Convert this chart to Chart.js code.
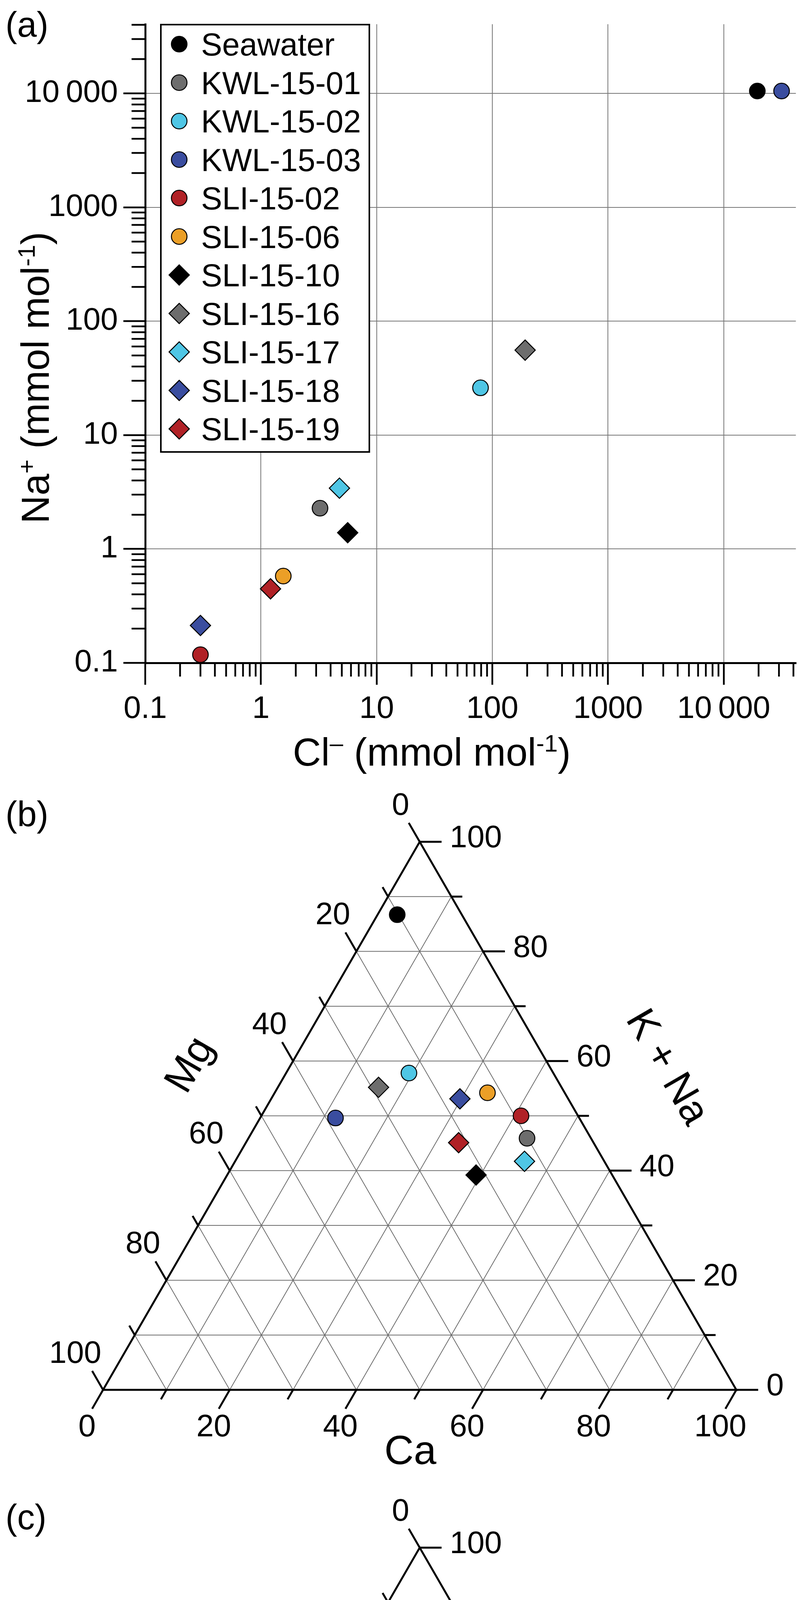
<!DOCTYPE html>
<html>
<head>
<meta charset="utf-8">
<title>Na vs Cl and ternary plots</title>
<script src="https://cdn.jsdelivr.net/npm/chart.js@4.4.1/dist/chart.umd.min.js"></script>
<style>
  html, body { margin: 0; padding: 0; background: #fff; }
  body { position: relative; width: 2067px; height: 5598px; overflow: hidden; }
  canvas { position: absolute; left: 0; }
</style>
</head>
<body>
<canvas id="naCl" width="2067" height="2000" style="top:0;width:2067px;height:2000px"></canvas>
<canvas id="cations" width="2067" height="1791" style="top:2000px;width:2067px;height:1791px"></canvas>
<canvas id="anions" width="2067" height="1791" style="top:3807px;width:2067px;height:1791px"></canvas>
<script>
const FONT = '"Liberation Sans", Arial, sans-serif';

// samples in legend order
const samples = ['Seawater', 'KWL-15-01', 'KWL-15-02', 'KWL-15-03', 'SLI-15-02', 'SLI-15-06',
                 'SLI-15-10', 'SLI-15-16', 'SLI-15-17', 'SLI-15-18', 'SLI-15-19'];
const sampleColors = ['#000000', '#6d6d6d', '#4fc6e5', '#3a4d9f', '#b02126', '#eb9f27',
                      '#000000', '#6d6d6d', '#4fc6e5', '#3a4d9f', '#b02126'];
const sampleMarkers = ['circle', 'circle', 'circle', 'circle', 'circle', 'circle',
                       'rectRot', 'rectRot', 'rectRot', 'rectRot', 'rectRot'];

// (a) Na+ against Cl-, mmol/mol
const clMmol = [19500, 3.24, 79, 31600, 0.30, 1.56, 5.62, 192, 4.77, 0.30, 1.21];
const naMmol = [10500, 2.28, 26, 10500, 0.118, 0.578, 1.39, 55.7, 3.42, 0.213, 0.447];
const logDecades = [0.1, 1, 10, 100, 1000, 10000];
const logDecadeLabels = ['0.1', '1', '10', '100', '1000', '10\u2009000'];
const minorSteps = [2, 3, 4, 5, 6, 7, 8, 9];

// (b) cations, % (top: K+Na, bottom-right: Ca, bottom-left: Mg)
const knaPct = [86.7, 45.9, 57.8, 49.6, 50.0, 54.2, 39.2, 55.2, 41.7, 53.1, 45.1];
const caPct  = [3.1, 44.0, 19.4, 11.9, 41.0, 33.6, 39.3, 15.9, 45.7, 29.8, 33.6];
const mgPct  = [10.2, 10.1, 22.8, 38.5, 9.0, 12.2, 21.5, 28.9, 12.6, 17.1, 21.3];

// (c) %, top: Ca, bottom-right: SO4, bottom-left: Cl
const caPctC = [2.4, 37.4, 10.3, 7.3, 18.9, 14.5, 25.4, 7.6, 23.6, 17.5, 17.8];
const so4Pct = [11.9, 25.2, 13.5, 1.7, 16.9, 33.8, 14.8, 9.3, 30.7, 36.2, 15.7];
const clPct  = [85.7, 37.4, 76.2, 91.0, 64.2, 51.7, 59.8, 83.1, 45.7, 46.3, 66.5];

const ternaryTicks = [0, 10, 20, 30, 40, 50, 60, 70, 80, 90, 100];
const ternaryLabelled = [0, 20, 40, 60, 80, 100];

function markerRadius(i) { return sampleMarkers[i] === 'circle' ? 20 : 26; }

function pointStyleFor(i) {
  return {
    pointStyle: sampleMarkers[i],
    pointRadius: markerRadius(i),
    pointHoverRadius: markerRadius(i),
    pointBackgroundColor: sampleColors[i],
    pointBorderColor: '#000',
    pointBorderWidth: 2.5,
    backgroundColor: sampleColors[i],
    borderColor: '#000',
    clip: false
  };
}

function drawMarker(ctx, i, x, y) {
  const r = markerRadius(i);
  ctx.beginPath();
  if (sampleMarkers[i] === 'circle') {
    ctx.arc(x, y, r, 0, Math.PI * 2);
  } else {
    ctx.moveTo(x - r, y); ctx.lineTo(x, y - r); ctx.lineTo(x + r, y); ctx.lineTo(x, y + r);
    ctx.closePath();
  }
  ctx.fillStyle = sampleColors[i];
  ctx.fill();
  ctx.lineWidth = 2.5;
  ctx.strokeStyle = '#000';
  ctx.stroke();
}

// text with super/subscripts, centred on cx
function drawRich(ctx, parts, size, cx, baseline) {
  const fontOf = k => (k ? Math.round(size * 0.62) : size) + 'px ' + FONT;
  const widths = parts.map(([t, k]) => { ctx.font = fontOf(k); return ctx.measureText(t).width; });
  let x = cx - widths.reduce((s, w) => s + w, 0) / 2;
  ctx.textAlign = 'left';
  ctx.textBaseline = 'alphabetic';
  parts.forEach(([t, k], i) => {
    ctx.font = fontOf(k);
    const dy = k === 'sup' ? -size * 0.36 : k === 'sub' ? size * 0.22 : 0;
    ctx.fillText(t, x, baseline + dy);
    x += widths[i];
  });
}

function drawTitle(ctx, parts, size, x, y, angle) {
  ctx.save();
  ctx.translate(x, y);
  ctx.rotate(angle);
  ctx.fillStyle = '#000';
  drawRich(ctx, parts, size, 0, size * 0.358);
  ctx.restore();
}

function panelLetter(ctx, text, baseline) {
  ctx.save();
  ctx.fillStyle = '#000';
  ctx.font = '90px ' + FONT;
  ctx.textAlign = 'left';
  ctx.textBaseline = 'alphabetic';
  ctx.fillText(text, 14, baseline);
  ctx.restore();
}

// ---------- (a) ----------
const naClDecor = {
  id: 'naClDecor',
  afterDraw(chart) {
    const { ctx, chartArea } = chart;
    const xs = chart.scales.x, ys = chart.scales.y;
    ctx.save();
    // minor ticks
    ctx.strokeStyle = '#000';
    ctx.lineWidth = 4.5;
    ctx.beginPath();
    logDecades.forEach(d => minorSteps.forEach(m => {
      const v = d * m;
      if (v <= xs.max) {
        const px = xs.getPixelForValue(v);
        ctx.moveTo(px, chartArea.bottom); ctx.lineTo(px, chartArea.bottom + 35);
      }
      if (v <= ys.max) {
        const py = ys.getPixelForValue(v);
        ctx.moveTo(chartArea.left, py); ctx.lineTo(chartArea.left - 35, py);
      }
    }));
    ctx.stroke();

    // legend box inside the plot
    const bx = chartArea.left + 40, by = chartArea.top + 1, bw = 534, bh = 1094;
    ctx.fillStyle = '#fff';
    ctx.fillRect(bx, by, bw, bh);
    ctx.lineWidth = 4;
    ctx.strokeStyle = '#000';
    ctx.strokeRect(bx, by, bw, bh);
    samples.forEach((name, i) => {
      const cy = by + 50 + i * 98.5;
      drawMarker(ctx, i, bx + 47, cy);
      ctx.fillStyle = '#000';
      ctx.font = '81px ' + FONT;
      ctx.textAlign = 'left';
      ctx.textBaseline = 'alphabetic';
      ctx.fillText(name, bx + 103, cy + 29);
    });

    // axis titles
    drawTitle(ctx, [['Na', ''], ['+', 'sup'], [' (mmol mol', ''], ['-1', 'sup'], [')', '']], 100, 89, 967, -Math.PI / 2);
    drawTitle(ctx, [['Cl', ''], ['\u2013', 'sup'], [' (mmol mol', ''], ['-1', 'sup'], [')', '']], 100, 1106, 1924, 0);
    ctx.restore();
    panelLetter(ctx, '(a)', 94);
  }
};

const logAxis = (max, fitFn, pad) => ({
  type: 'logarithmic',
  min: 0.1,
  max: max,
  afterBuildTicks: s => { s.ticks = logDecades.map(v => ({ value: v })); },
  afterFit: fitFn,
  ticks: {
    callback: (v, i) => logDecadeLabels[i],
    font: { family: FONT, size: 80 },
    color: '#000',
    padding: pad,
    maxRotation: 0,
    autoSkip: false
  },
  grid: { color: '#777', lineWidth: 2, tickLength: 56, tickColor: '#000', tickWidth: 4.5 },
  border: { color: '#000', width: 5 }
});

new Chart(document.getElementById('naCl'), {
  type: 'scatter',
  data: {
    datasets: samples.map((name, i) => ({
      label: name,
      data: [{ x: clMmol[i], y: naMmol[i] }],
      ...pointStyleFor(i)
    }))
  },
  options: {
    responsive: false,
    animation: false,
    devicePixelRatio: 1,
    events: [],
    layout: { padding: { top: 26, right: 18, left: 0, bottom: 0 } },
    scales: {
      x: logAxis(42000, s => { s.height = 303; }, 15),
      y: logAxis(40500, s => { s.width = 372; }, 14)
    },
    plugins: { legend: { display: false }, tooltip: { enabled: false } }
  },
  plugins: [naClDecor]
});

// ---------- ternary diagrams ----------
function ternaryAxes(letter, letterBaseline, titles) {
  return {
    id: 'ternaryAxes',
    beforeDatasetsDraw(chart) {
      const ctx = chart.ctx;
      const xs = chart.scales.x, ys = chart.scales.y;
      // t: share of top corner, r: share of bottom-right corner
      const P = (t, r) => ({ x: xs.getPixelForValue(r + t / 2), y: ys.getPixelForValue(t) });
      ctx.save();

      ctx.strokeStyle = '#6e6e6e';
      ctx.lineWidth = 2;
      ctx.beginPath();
      ternaryTicks.slice(1, -1).forEach(p => {
        const v = p / 100;
        [[P(v, 0), P(v, 1 - v)], [P(0, v), P(1 - v, v)], [P(0, 1 - v), P(1 - v, 0)]].forEach(([a, b]) => {
          ctx.moveTo(a.x, a.y); ctx.lineTo(b.x, b.y);
        });
      });
      ctx.stroke();

      ctx.strokeStyle = '#000';
      ctx.lineWidth = 5;
      const top = P(1, 0), right = P(0, 1), left = P(0, 0);
      ctx.beginPath();
      ctx.moveTo(left.x, left.y); ctx.lineTo(right.x, right.y); ctx.lineTo(top.x, top.y);
      ctx.closePath();
      ctx.stroke();

      const sides = [
        { at: v => P(0, v), dir: [-0.5, 0.866], kind: 'bottom' },
        { at: v => P(v, 1 - v), dir: [1, 0], kind: 'right' },
        { at: v => P(1 - v, 0), dir: [-0.5, -0.866], kind: 'left' }
      ];
      ctx.font = '80px ' + FONT;
      ctx.fillStyle = '#000';
      ctx.textBaseline = 'alphabetic';
      sides.forEach(side => {
        ternaryTicks.forEach(p => {
          const major = ternaryLabelled.includes(p);
          const len = major ? 56 : 28;
          const s = side.at(p / 100);
          const e = { x: s.x + side.dir[0] * len, y: s.y + side.dir[1] * len };
          ctx.beginPath();
          ctx.moveTo(s.x, s.y); ctx.lineTo(e.x, e.y);
          ctx.stroke();
          if (!major) return;
          const txt = String(p);
          const w = ctx.measureText(txt).width;
          if (side.kind === 'bottom') {
            ctx.textAlign = 'center';
            ctx.fillText(txt, e.x - 13, e.y + 42 + 29);
          } else if (side.kind === 'right') {
            ctx.textAlign = 'left';
            ctx.fillText(txt, e.x + 21, e.y - 15 + 29);
          } else {
            ctx.textAlign = 'center';
            ctx.fillText(txt, e.x - 10 - w / 4, e.y - 50 + 29);
          }
        });
      });

      titles.forEach(t => drawTitle(ctx, t.parts, 104, t.x, t.y, t.angle));
      ctx.restore();
      panelLetter(ctx, letter, letterBaseline);
    }
  };
}

function ternaryChart(canvasId, topPct, rightPct, leftPct, letter, letterBaseline, titles) {
  return new Chart(document.getElementById(canvasId), {
    type: 'scatter',
    data: {
      datasets: samples.map((name, i) => {
        const sum = topPct[i] + rightPct[i] + leftPct[i];
        const t = topPct[i] / sum, r = rightPct[i] / sum;
        return { label: name, data: [{ x: r + t / 2, y: t }], ...pointStyleFor(i) };
      })
    },
    options: {
      responsive: false,
      animation: false,
      devicePixelRatio: 1,
      events: [],
      layout: { padding: { left: 264, right: 181, top: 155, bottom: 233 } },
      scales: {
        x: { type: 'linear', min: 0, max: 1, display: false },
        y: { type: 'linear', min: 0, max: 1, display: false }
      },
      plugins: { legend: { display: false }, tooltip: { enabled: false } }
    },
    plugins: [ternaryAxes(letter, letterBaseline, titles)]
  });
}

ternaryChart('cations', knaPct, caPct, mgPct, '(b)', 115, [
  { parts: [['Ca', '']], x: 1051, y: 1711, angle: 0 },
  { parts: [['Mg', '']], x: 481, y: 723, angle: -Math.PI / 3 },
  { parts: [['K + Na', '']], x: 1714, y: 729, angle: Math.PI / 3 }
]);

ternaryChart('anions', caPctC, so4Pct, clPct, '(c)', 108, [
  { parts: [['SO', ''], ['4', 'sub']], x: 1046, y: 1704, angle: 0 },
  { parts: [['Cl', '']], x: 488, y: 756, angle: -Math.PI / 3 },
  { parts: [['Ca', '']], x: 1694, y: 784, angle: Math.PI / 3 }
]);
</script>
</body>
</html>
